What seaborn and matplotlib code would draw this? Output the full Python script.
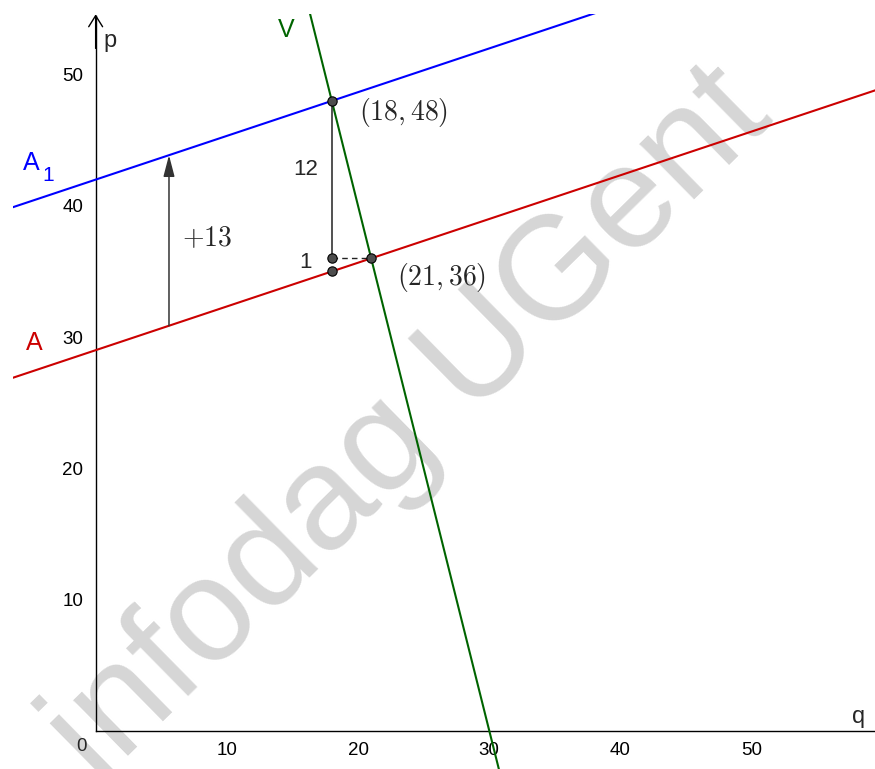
import numpy as np
import pandas as pd
import matplotlib
matplotlib.use("Agg")
import matplotlib.pyplot as plt
import seaborn as sns
from matplotlib.patches import Rectangle

# ---------------- data ----------------
line_names = ["A", "A1", "V"]
line_intercepts = [29, 42, 120]
line_slopes = [1 / 3, 1 / 3, -4]
line_colors = ["#cc0000", "#0000ff", "#006400"]

point_q = [18, 18, 18, 21]
point_p = [48, 36, 35, 36]

x_ticks = [10, 20, 30, 40, 50]
y_ticks = [10, 20, 30, 40, 50]

shift_q = 5.59          # position of the "+13" arrow
shift_amount = 13
point_labels = ["$(18,48)$", "$(21,36)$"]

# ---------------- style ----------------
sns.set_theme(style="white")
plt.rcParams["font.family"] = ["Liberation Sans", "DejaVu Sans"]
plt.rcParams["mathtext.fontset"] = "cm"

fig = plt.figure(figsize=(8.75, 7.69), dpi=100)
ax = fig.add_axes([0, 0, 1, 1])
ax.set_xlim(-7.29, 59.4)
ax.set_ylim(-2.92, 55.69)

# watermark (behind everything)
ax.text(0.468, 0.447, "infodag UGent", fontsize=106, color="#d6d6d6",
        rotation=44.5, ha="center", va="center", rotation_mode="anchor",
        family="Liberation Sans", transform=fig.transFigure, zorder=0)

# lines
qs = np.linspace(-8, 62, 1400)
rows = []
for name, b, m in zip(line_names, line_intercepts, line_slopes):
    for q in qs:
        rows.append((name, q, b + m * q))
df = pd.DataFrame(rows, columns=["line", "q", "p"])
sns.lineplot(data=df, x="q", y="p", hue="line", palette=dict(zip(line_names, line_colors)),
             estimator=None, sort=False, legend=False, linewidth=1.5, ax=ax, zorder=3)
clip = Rectangle((-6.3, -10), 80, 54.6 + 10, transform=ax.transData, visible=False)
ax.add_patch(clip)
for ln in ax.lines:
    ln.set_clip_path(clip)

# axes
for s in ["top", "right"]:
    ax.spines[s].set_visible(False)
ax.spines["left"].set_position(("data", 0))
ax.spines["bottom"].set_position(("data", 0))
ax.spines["left"].set_bounds(0, 54.5)
ax.spines["bottom"].set_bounds(0, 60)
for s in ["left", "bottom"]:
    ax.spines[s].set_color("black")
    ax.spines[s].set_linewidth(1.0)
    ax.spines[s].set_zorder(2)
ax.annotate("", xy=(0, 54.6), xytext=(0, 52), arrowprops=dict(arrowstyle="->,head_length=0.4,head_width=0.25",
            lw=1.0, color="black", shrinkA=0, shrinkB=0, mutation_scale=20))
ax.set_xticks(x_ticks)
ax.set_yticks(y_ticks)
ax.set_xticklabels([str(t) for t in x_ticks], fontsize=13.5)
ax.set_yticklabels([str(t) for t in y_ticks], fontsize=13.5)
ax.tick_params(axis="both", direction="out", length=3, width=1, color="black",
               labelcolor="black")
ax.tick_params(axis="x", pad=5)
ax.tick_params(axis="y", pad=6)
ax.text(-1.05, -1.2, "0", fontsize=13.5, ha="center", va="center")
ax.text(0.56, 52.57, "p", fontsize=17, ha="left", va="center")
ax.text(57.65, 1.04, "q", fontsize=17, ha="left", va="center")

# line labels
ax.text(-5.55, 43.27, "A", fontsize=18, color="#0000ff", ha="left", va="center")
ax.text(-4.09, 42.35, "1", fontsize=15, color="#0000ff", ha="left", va="center")
ax.text(-5.31, 29.57, "A", fontsize=18, color="#cc0000", ha="left", va="center")
ax.text(13.9, 53.4, "V", fontsize=18, color="#006400", ha="left", va="center")

# segments
ax.plot([point_q[0], point_q[1]], [point_p[0], point_p[1]], color="#222222", lw=1.1, zorder=4)
ax.plot([point_q[1], point_q[3]], [point_p[1], point_p[3]], color="#222222", lw=1.0,
        ls=(0, (4, 3)), zorder=4)

# +13 arrow
p_low = line_intercepts[0] + line_slopes[0] * shift_q
ax.annotate("", xy=(shift_q, p_low + shift_amount), xytext=(shift_q, p_low),
            arrowprops=dict(arrowstyle="-|>,head_length=0.65,head_width=0.17", lw=1.1,
                            color="#333333", shrinkA=0, shrinkB=0, mutation_scale=20), zorder=4)
ax.text(6.59, 37.47, "$+%d$" % shift_amount, fontsize=20, ha="left", va="center", zorder=6)

# points
pts = pd.DataFrame({"q": point_q, "p": point_p})
sns.scatterplot(data=pts, x="q", y="p", s=45, color="#4d4d4d", edgecolor="black",
                linewidth=0.8, ax=ax, zorder=5, legend=False)
ax.set_xlabel("")
ax.set_ylabel("")

ax.text(15.04, 42.74, "12", fontsize=16, ha="left", va="center", zorder=6)
ax.text(16.5, 35.65, "1", fontsize=16, ha="right", va="center", zorder=6)
ax.text(20.07, 47.12, point_labels[0], fontsize=20, ha="left", va="center", zorder=6)
ax.text(22.97, 34.54, point_labels[1], fontsize=20, ha="left", va="center", zorder=6)

fig.savefig("out.png", dpi=100)
